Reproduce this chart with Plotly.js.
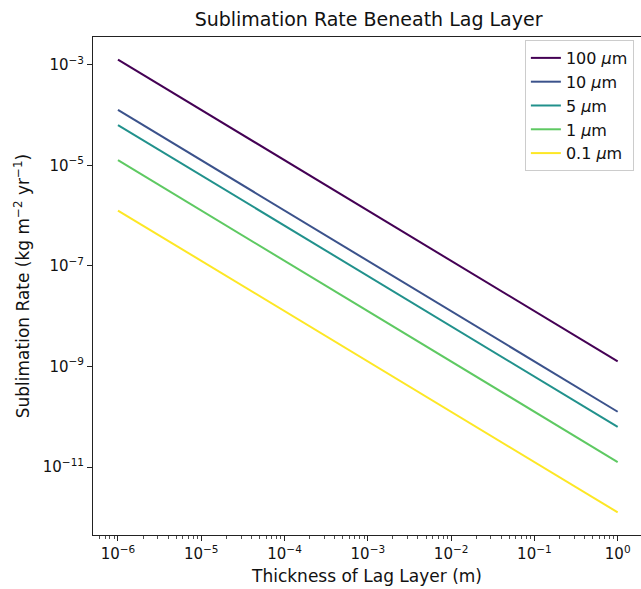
<!DOCTYPE html>
<html>
<head>
<meta charset="utf-8">
<script src="https://cdn.plot.ly/plotly-3.0.1.min.js"></script>
<style>html,body{margin:0;padding:0;background:#fff;}#chart{width:641px;height:589px;}</style>
</head>
<body>
<div id="chart"></div>
<script>
// Data
const thickness = [1e-6, 1e0];                 // m
const sizeLabels = ["100 <i>μ</i>m", "10 <i>μ</i>m", "5 <i>μ</i>m", "1 <i>μ</i>m", "0.1 <i>μ</i>m"];
const rate100 = [1.26e-3, 1.26e-9];
const rate10  = [1.26e-4, 1.26e-10];
const rate5   = [6.3e-5,  6.3e-11];
const rate1   = [1.26e-5, 1.26e-11];
const rate01  = [1.26e-6, 1.26e-12];
const colors = ["#440154", "#3b528b", "#21918c", "#5ec962", "#fde725"];
const xTickVals = [1e-6, 1e-5, 1e-4, 1e-3, 1e-2, 1e-1, 1e0];
const xTickText = ["10<sup>−6</sup>", "10<sup>−5</sup>", "10<sup>−4</sup>", "10<sup>−3</sup>", "10<sup>−2</sup>", "10<sup>−1</sup>", "10<sup>0</sup>"];
const yTickVals = [1e-3, 1e-5, 1e-7, 1e-9, 1e-11];
const yTickText = ["10<sup>−3</sup>", "10<sup>−5</sup>", "10<sup>−7</sup>", "10<sup>−9</sup>", "10<sup>−11</sup>"];

const series = [rate100, rate10, rate5, rate1, rate01];
const traces = series.map((ys, i) => ({
  x: thickness, y: ys, type: "scatter", mode: "lines",
  name: sizeLabels[i], line: {color: colors[i], width: 2}
}));

// minor ticks on x (2..9 per decade)
const minorX = [];
for (let e = -7; e <= 0; e++) for (let m = 2; m <= 9; m++) minorX.push(m * Math.pow(10, e));

const font = "DejaVu Sans, sans-serif";
const layout = {
  width: 641, height: 589,
  margin: {l: 93, r: 0, t: 37, b: 54},
  paper_bgcolor: "#fff", plot_bgcolor: "#fff",
  font: {family: font, color: "#111", size: 15},
  title: {text: "Sublimation Rate Beneath Lag Layer", font: {family: font, size: 19, color: "#111"},
          x: 0.575, xanchor: "center", y: 0.967, yanchor: "middle"},
  xaxis: {
    type: "log", range: [-6.3, 0.28],
    tickvals: xTickVals, ticktext: xTickText,
    ticks: "outside", ticklen: 5, tickwidth: 1, tickcolor: "#222",
    showgrid: false, zeroline: false,
    showline: true, linecolor: "#222", linewidth: 1, mirror: true,
    tickfont: {size: 15},
    minor: {tickvals: minorX, ticks: "outside", ticklen: 2.5, tickwidth: 0.8, tickcolor: "#222", showgrid: false},
    title: {text: "Thickness of Lag Layer (m)", font: {size: 17}, standoff: 8}
  },
  yaxis: {
    type: "log", range: [-12.35, -2.45],
    tickvals: yTickVals, ticktext: yTickText,
    ticks: "outside", ticklen: 5, tickwidth: 1, tickcolor: "#222",
    showgrid: false, zeroline: false,
    showline: true, linecolor: "#222", linewidth: 1, mirror: true,
    tickfont: {size: 15},
    title: {text: "Sublimation Rate (kg m<sup>−2</sup> yr<sup>−1</sup>)", font: {size: 17}, standoff: 8}
  },
  legend: {
    x: 0.987, y: 0.994, xanchor: "right", yanchor: "top",
    bgcolor: "rgba(255,255,255,0.9)", bordercolor: "#ccc", borderwidth: 1,
    font: {size: 16}, tracegroupgap: 0, itemwidth: 30
  },
  showlegend: true
};
Plotly.newPlot("chart", traces, layout, {displayModeBar: false, staticPlot: true});
</script>
</body>
</html>
